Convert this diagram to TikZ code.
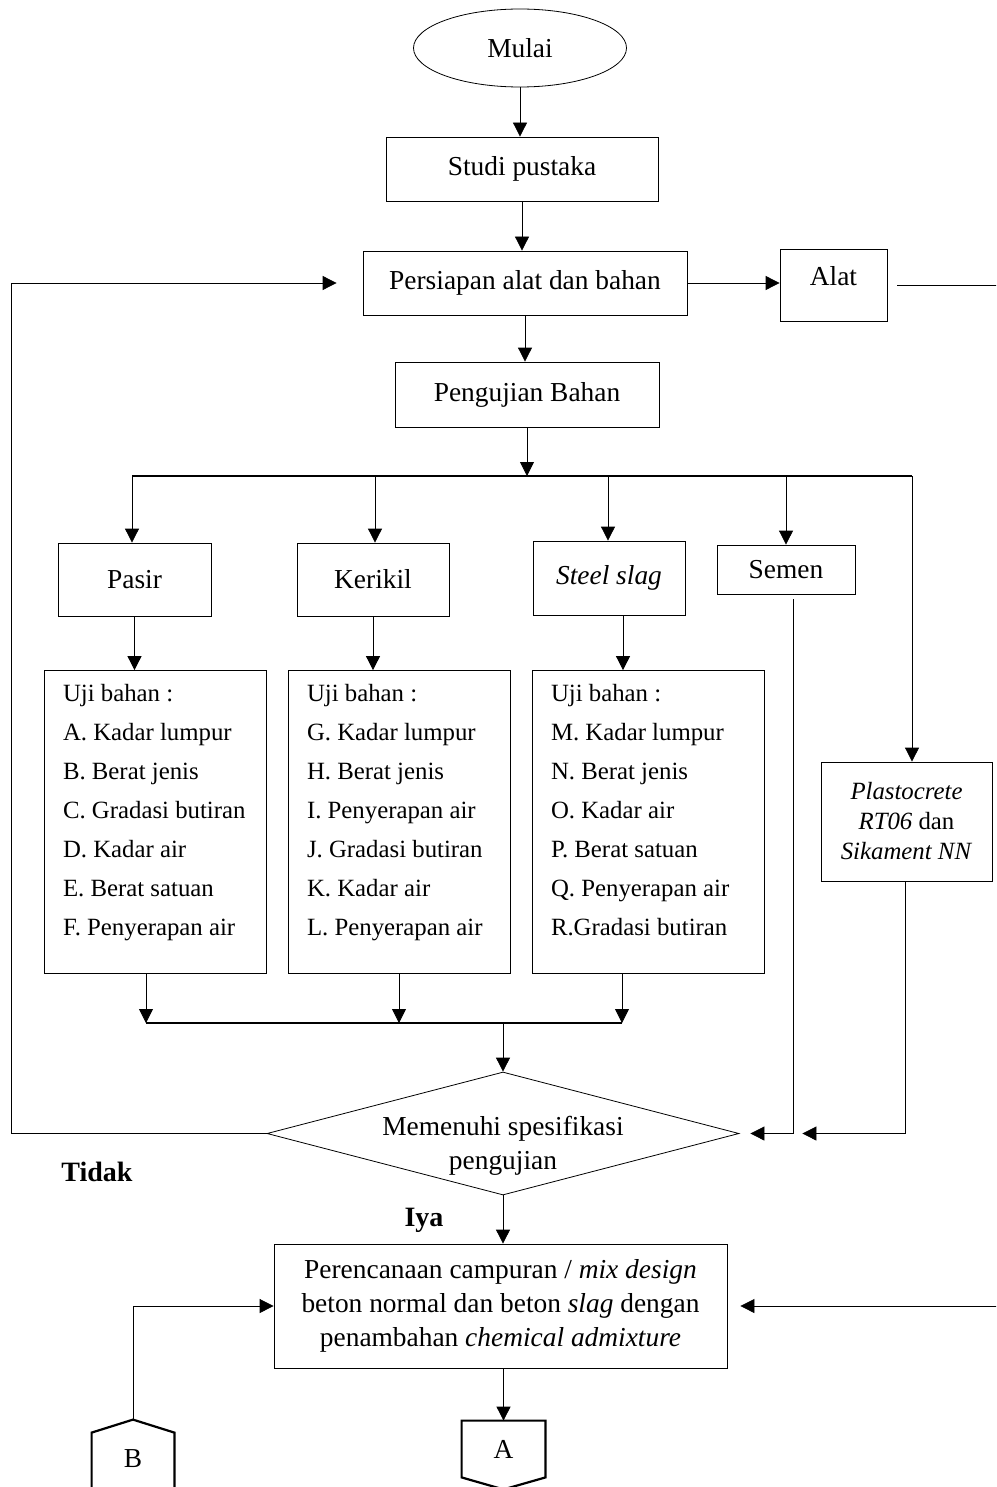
\documentclass[tikz,border=0pt]{standalone}
\usepackage{fontspec}
\setmainfont{Liberation Serif}
\usetikzlibrary{arrows.meta,shapes.geometric}

\begin{document}
\begin{tikzpicture}[x=0.5pt,y=-0.5pt]
    \tikzstyle{kotak}=[draw,rectangle,inner sep=0,align=center,font=\fontsize{13.7}{17}\selectfont]
    \tikzstyle{daftar}=[anchor=north west,inner sep=0,align=left,font=\fontsize{12.4}{19.5}\selectfont]
    \tikzstyle{panah}=[-{Triangle[length=7pt,width=7pt]}]
    \tikzstyle{rel}=[line width=1.1pt]
    \tikzstyle{konektor}=[line width=1.1pt]
    \tikzstyle{ket}=[font=\fontsize{14}{17}\selectfont\bfseries]
    \newcommand{\ujibox}[5]{
        \path (#2,822) node[kotak,minimum width=#3pt,minimum height=151.5pt] (#1) {};
        \path ([shift={(19,14)}]#1.north west) node[daftar] (#4) {#5};
    }
    \useasboundingbox (0,0) rectangle (996,1487);
    \clip (0,0) rectangle (996,1487);

    \path (520,48) node[draw,ellipse,minimum width=106.5pt,minimum height=39pt,inner sep=0,font=\fontsize{13.7}{17}\selectfont] (mulai) {Mulai};
    \path (522,169) node[kotak,minimum width=136pt,minimum height=32pt] (studi) {Studi pustaka};
    \path (525,283) node[kotak,minimum width=162pt,minimum height=32pt] (persiapan) {Persiapan alat dan bahan};
    \path (833.5,285) node[kotak,minimum width=53.5pt,minimum height=36pt,label={[yshift=4.5pt,font=\fontsize{13.7}{17}\selectfont]center:Alat}] (alat) {};
    \path (527,394.5) node[kotak,minimum width=132pt,minimum height=32.5pt] (pengujian) {Pengujian Bahan};

    \path (134.5,579.5) node[kotak,minimum width=76.5pt,minimum height=36.5pt] (pasir) {Pasir};
    \path (373,579.5) node[kotak,minimum width=76pt,minimum height=36.5pt] (kerikil) {Kerikil};
    \path (609,578) node[kotak,minimum width=76pt,minimum height=37pt] (steel) {\textit{Steel slag}};
    \path (786,569.5) node[kotak,minimum width=69pt,minimum height=24.5pt] (semen) {Semen};
    \path (906.5,821.5) node[kotak,minimum width=85.5pt,minimum height=59.5pt,font=\fontsize{12.4}{15}\selectfont] (plasto) {\textit{Plastocrete}\\\textit{RT06} dan\\\textit{Sikament NN}};

    \ujibox{uji1}{155}{111}{teks1}{Uji bahan :\\A. Kadar lumpur\\B. Berat jenis\\C. Gradasi butiran\\D. Kadar air\\E. Berat satuan\\F. Penyerapan air}
    \ujibox{uji2}{399}{111}{teks2}{Uji bahan :\\G. Kadar lumpur\\H. Berat jenis\\I. Penyerapan air\\J. Gradasi butiran\\K. Kadar air\\L. Penyerapan air}
    \ujibox{uji3}{648}{116}{teks3}{Uji bahan :\\M. Kadar lumpur\\N. Berat jenis\\O. Kadar air\\P. Berat satuan\\Q. Penyerapan air\\R.Gradasi butiran}

    \path (503,1133.5) node[draw,diamond,aspect=3.8,minimum width=236pt,minimum height=61.5pt,inner sep=0,label={[yshift=-6pt,align=center,font=\fontsize{13.7}{17}\selectfont]center:Memenuhi spesifikasi\\pengujian}] (cek) {};
    \path (97,1172) node[ket] (tidak) {Tidak};
    \path (424,1220) node[ket] (iya) {Iya};
    \path (500.5,1306) node[kotak,minimum width=226.5pt,minimum height=62pt] (rencana) {Perencanaan campuran / \textit{mix design}\\beton normal dan beton \textit{slag} dengan\\penambahan \textit{chemical admixture}};

    \path (503.5,1449) node[minimum width=41.5pt,minimum height=28pt,inner sep=0,font=\fontsize{13.7}{17}\selectfont] (A) {A};
    \draw[konektor] (A.south west) -- (A.north west) -- (A.north east) -- (A.south east) -- ([yshift=-6pt]A.south) -- cycle;
    \path (133,1459) node[minimum width=41pt,minimum height=26pt,inner sep=0,font=\fontsize{13.7}{17}\selectfont] (B) {B};
    \coordinate (Bpuncak) at ([yshift=6.5pt]B.north);
    \draw[konektor] ([yshift=-20pt]B.south west) -- (B.north west) -- (Bpuncak) -- (B.north east) -- ([yshift=-20pt]B.south east);

    \coordinate (bus) at (527,476);
    \coordinate (bus2) at (503,1023);
    \coordinate (kiri) at (11,0);
    \coordinate (kanan) at (1010,0);

    \draw[panah] (mulai.south) -- (mulai.south |- studi.north);
    \draw[panah] (studi.south) -- (studi.south |- persiapan.north);
    \draw[panah] (persiapan.east) -- (persiapan.east -| alat.west);
    \draw[panah] (persiapan.south) -- (persiapan.south |- pengujian.north);
    \draw[panah] (pengujian.south) -- (pengujian.south |- bus);
    \draw[rel] ([xshift=-1.25pt]pasir.north |- bus) -- ([xshift=2.75pt]plasto.north |- bus);
    \draw[panah] ([xshift=-1.25pt]pasir.north |- bus) -- ([xshift=-1.25pt]pasir.north);
    \draw[panah] ([xshift=1pt]kerikil.north |- bus) -- ([xshift=1pt]kerikil.north);
    \draw[panah] ([xshift=-0.5pt]steel.north |- bus) -- ([xshift=-0.5pt]steel.north);
    \draw[panah] (semen.north |- bus) -- (semen.north);
    \draw[panah] ([xshift=2.75pt]plasto.north |- bus) -- ([xshift=2.75pt]plasto.north);

    \draw[panah] (pasir.south) -- (pasir.south |- uji1.north);
    \draw[panah] (kerikil.south) -- (kerikil.south |- uji2.north);
    \draw[panah] ([xshift=7pt]steel.south) -- ([xshift=7pt]steel.south |- uji3.north);

    \draw[panah] ([xshift=-4.5pt]uji1.south) -- ([xshift=-4.5pt]uji1.south |- bus2);
    \draw[panah] (uji2.south) -- (uji2.south |- bus2);
    \draw[panah] ([xshift=-13pt]uji3.south) -- ([xshift=-13pt]uji3.south |- bus2);
    \draw[rel] ([xshift=-4.5pt]uji1.south |- bus2) -- ([xshift=-13pt]uji3.south |- bus2);
    \draw[panah] (bus2) -- (cek.north);

    \draw[panah,shorten >=13pt] (cek.west) -- (cek.west -| kiri) -- (kiri |- persiapan.west) -- (persiapan.west);
    \draw[panah,shorten <=2.5pt,shorten >=5.5pt] ([xshift=3.5pt]semen.south) |- (cek.east);
    \draw[panah,shorten >=31.5pt] ([xshift=-0.75pt]plasto.south) |- (cek.east);
    \draw[panah] (cek.south) -- (cek.south |- rencana.north);
    \draw[panah] (A.north |- rencana.south) -- (A.north);
    \draw[panah] (Bpuncak) |- (rencana.west);
    \draw[panah,shorten <=5pt,shorten >=6.5pt] (alat.east) -- (alat.east -| kanan) -- (kanan |- rencana.east) -- (rencana.east);
\end{tikzpicture}
\end{document}
